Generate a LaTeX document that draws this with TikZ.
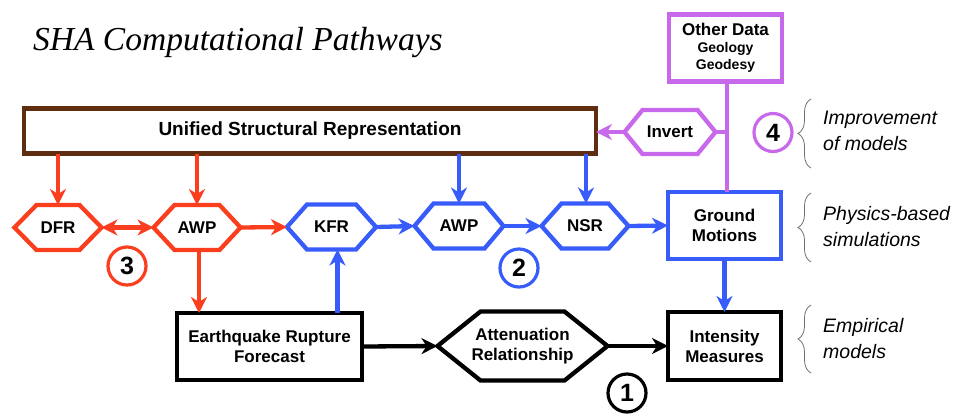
\documentclass[tikz,border=0pt]{standalone}
\usepackage{fontspec}
\setmainfont{Liberation Sans}
\newfontfamily\titlefont{Liberation Serif}
\usetikzlibrary{arrows.meta,decorations.pathreplacing,calc}
\definecolor{cred}{RGB}{250,62,30}
\definecolor{cblue}{RGB}{55,92,250}
\definecolor{cpurple}{RGB}{200,105,235}
\definecolor{cbrown}{RGB}{95,45,15}
\definecolor{cgray}{RGB}{110,110,110}
\newcommand{\hexbox}[7]{% name, center, width, height, inset, style, text
  \node[hexnode, minimum width=#3pt, minimum height=#4pt] (#1) at (#2) {#7};
  \draw[#6] (#1.west) -- ([xshift=#5pt]#1.north west) -- ([xshift=-#5pt]#1.north east)
    -- (#1.east) -- ([xshift=-#5pt]#1.south east) -- ([xshift=#5pt]#1.south west) -- cycle;
}
\begin{document}
\begin{tikzpicture}[x=1pt,y=-1pt,
  lbl/.style={font=\bfseries\fontsize{17}{20}\selectfont, align=center},
  hexnode/.style={lbl, inner sep=0pt, outer sep=0pt, draw=none, font=\bfseries\fontsize{17}{20}\selectfont},
  boxnode/.style={lbl, draw, line width=4.3pt, inner sep=0pt, outer sep=0pt},
  hexred/.style={draw=cred, line width=4.3pt, line join=miter},
  hexblue/.style={draw=cblue, line width=4.3pt, line join=miter},
  hexblack/.style={draw=black, line width=4.3pt, line join=miter},
  hexpurple/.style={draw=cpurple, line width=4.3pt, line join=miter},
  numcirc/.style={circle, draw, line width=3.2pt, minimum size=38pt, inner sep=0pt, outer sep=0pt, font=\bfseries\fontsize{25}{25}\selectfont},
  arr/.style={line width=4.3pt, -{Stealth[length=16pt,width=16pt,inset=5pt]}},
  darr/.style={line width=4.3pt, {Stealth[length=16pt,width=16pt,inset=5pt]}-{Stealth[length=16pt,width=16pt,inset=5pt]}},
  sidelabel/.style={anchor=west, align=left, inner sep=0pt, font=\itshape\fontsize{19.5}{26}\selectfont},
  bracestyle/.style={draw=cgray, line width=0.8pt, decorate, decoration={brace, amplitude=13pt}}
]
\useasboundingbox (0,0) rectangle (956,416);

% title
\node[anchor=base west, inner sep=0pt, font=\titlefont\itshape\fontsize{33.5}{40}\selectfont] (title) at (33,50) {SHA Computational Pathways};

% boxes
\node[boxnode, draw=cbrown, minimum width=572pt, minimum height=45pt, font=\bfseries\fontsize{19}{22}\selectfont] (usr) at (310,131) {Unified Structural Representation};
\node[boxnode, draw=cpurple, minimum width=113pt, minimum height=67pt, font=\bfseries\fontsize{14}{17}\selectfont] (od) at (725.5,48) {{\fontsize{17}{19}\selectfont Other Data}\\Geology\\Geodesy};
\node[boxnode, draw=cblue, minimum width=113pt, minimum height=67pt] (gm) at (724.5,225.5) {Ground\\Motions};
\node[boxnode, draw=black, minimum width=113pt, minimum height=68pt] (im) at (724.5,346) {Intensity\\Measures};
\node[boxnode, draw=black, minimum width=185pt, minimum height=67pt] (erf) at (269.5,346.5) {Earthquake Rupture\\Forecast};

% hexagons
\hexbox{dfr}{58,227.5}{87}{45}{22}{hexred}{DFR}
\hexbox{awpr}{197,227.5}{87}{45}{21}{hexred}{AWP}
\hexbox{kfr}{331.5,227}{89}{45}{20}{hexblue}{KFR}
\hexbox{awpb}{459,226}{89}{45}{19}{hexblue}{AWP}
\hexbox{nsr}{585,226}{87}{45}{20}{hexblue}{NSR}
\hexbox{att}{522.5,346}{170}{69}{43}{hexblack}{Attenuation\\Relationship}
\hexbox{inv}{670,132}{91}{44}{18}{hexpurple}{Invert}

% numbered circles
\node[numcirc, draw=cred] (c3) at (127,266) {3};
\node[numcirc, draw=cblue] (c2) at (519,268) {2};
\node[numcirc, draw=black] (c1) at (627,393) {1};
\node[numcirc, draw=cpurple] (c4) at (773,132.5) {4};

% red connectors
\draw[arr, cred] (dfr.north |- usr.south) -- (dfr.north);
\draw[arr, cred] (awpr.north |- usr.south) -- (awpr.north);
\draw[darr, cred] (dfr.east) -- (awpr.west);
\draw[arr, cred] (awpr.east) -- (kfr.west);
\draw[arr, cred] ([xshift=2pt]awpr.south) -- ([xshift=2pt]awpr.south |- erf.north);

% blue connectors
\draw[arr, cblue] ([xshift=6pt]erf.north -| kfr.south) -- ([xshift=6pt]kfr.south);
\draw[arr, cblue] (awpb.north |- usr.south) -- (awpb.north);
\draw[arr, cblue] ([xshift=1pt]nsr.north |- usr.south) -- ([xshift=1pt]nsr.north);
\draw[arr, cblue] (kfr.east) -- (awpb.west);
\draw[arr, cblue] (awpb.east) -- (nsr.west);
\draw[arr, cblue] (nsr.east) -- (gm.west);
\draw[arr, cblue] (gm.south) -- (im.north);

% black connectors
\draw[arr, black] (erf.east) -- (att.west);
\draw[arr, black] (att.east) -- (im.west);

% purple connectors
\coordinate (junc) at ([xshift=1.5pt]od.south |- inv.east);
\draw[cpurple, line width=4.3pt] ([xshift=1.5pt]od.south) -- ([xshift=1.5pt]od.south |- gm.north);
\draw[cpurple, line width=4.3pt] (junc) -- (inv.east);
\draw[arr, cpurple] (inv.west) -- (inv.west -| usr.east);

% braces and side labels
\draw[bracestyle] (811,168) -- (811,99);
\draw[bracestyle] (811,262) -- (811,193);
\draw[bracestyle] (811,373) -- (811,305);
\node[sidelabel] (l4) at (823,131) {Improvement\\of models};
\node[sidelabel] (l2) at (823,227) {Physics-based\\simulations};
\node[sidelabel] (l1) at (823,339) {Empirical\\models};
\end{tikzpicture}
\end{document}
